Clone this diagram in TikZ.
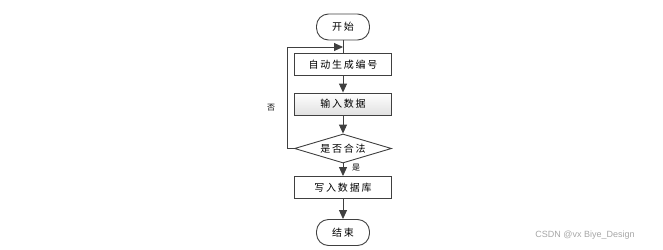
\documentclass[tikz,border=0pt]{standalone}
\usepackage{fontspec}
\setmainfont{Noto Sans CJK SC}[LetterSpace=18]
\newfontfamily\wmfont{Liberation Sans}
\usetikzlibrary{shapes.geometric,arrows.meta}
\begin{document}
\begin{tikzpicture}[x=1pt,y=-1pt,
  line width=0.9pt, draw=black!75,
  term/.style={draw, rounded corners=12pt, minimum width=53pt, minimum height=26pt, font=\fontsize{10}{12}\selectfont},
  box/.style={draw, minimum width=97pt, minimum height=22pt, font=\fontsize{10}{12}\selectfont},
  cond/.style={draw, diamond, aspect=3.4, minimum width=97pt, minimum height=29pt, inner sep=0pt, font=\fontsize{10}{12}\selectfont},
  arr/.style={-{Triangle[length=9pt,width=8pt]}, draw=black!75}]
\useasboundingbox (0,0) rectangle (663,249);

\node[term] (start) at (343,27) {开始};
\node[box] (gen) at (343,64.5) {自动生成编号};
\node[box, top color=white, bottom color=black!12] (input) at (343,104) {输入数据};
\node[cond] (check) at (343,148.5) {是否合法};
\node[box] (save) at (343,187.5) {写入数据库};
\node[term] (stop) at (343,232.5) {结束};

\coordinate (join) at (343,47);

\draw (start) -- (gen);
\draw[arr] (gen) -- (input);
\draw[arr] (input) -- (check);
\draw[arr] (check) -- (save);
\draw[arr] (save) -- (stop);
\draw[arr] (check.west) -- ++(-7,0) |- (join);

\node[font=\fontsize{8}{10}\selectfont] (no) at (271,108) {否};
\node[font=\fontsize{8}{10}\selectfont] (yes) at (356,168) {是};

\node[font=\wmfont\fontsize{9}{11}\selectfont, text=black!35] (mark) at (585,235) {CSDN @vx Biye\_Design};
\end{tikzpicture}
\end{document}
